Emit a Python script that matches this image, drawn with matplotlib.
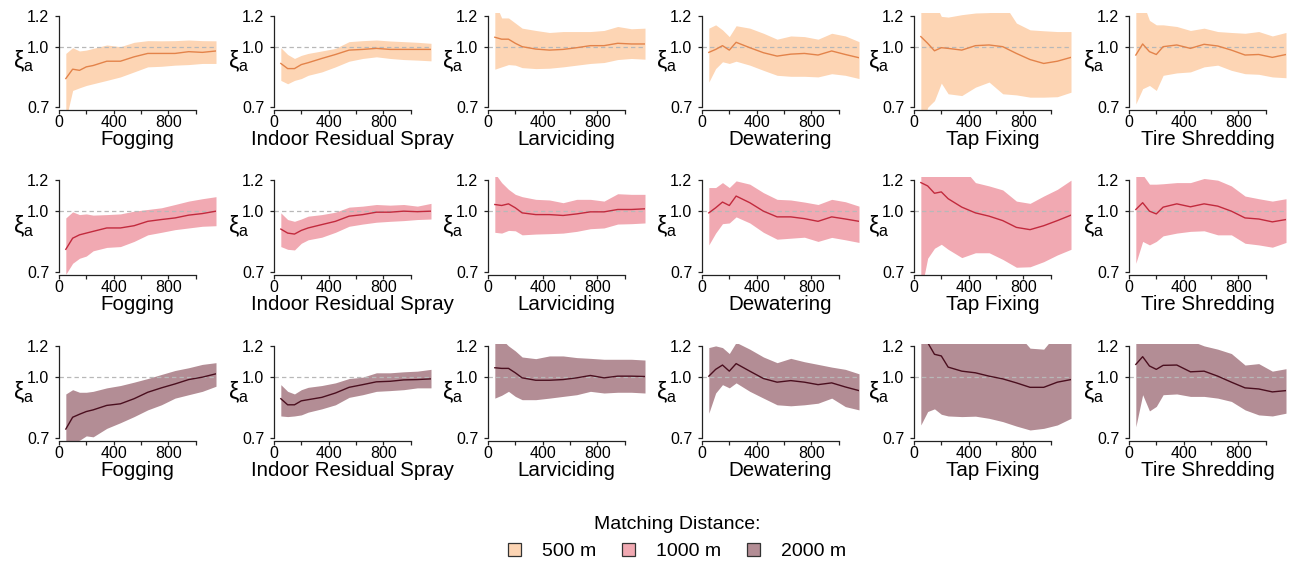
import matplotlib
matplotlib.use("Agg")
import matplotlib.pyplot as plt
from matplotlib.patches import Patch
from matplotlib.ticker import FixedLocator, FixedFormatter, NullLocator

plt.rcParams['font.family'] = ['Liberation Sans', 'DejaVu Sans']
plt.rcParams['mathtext.fontset'] = 'custom'
plt.rcParams['mathtext.rm'] = 'Liberation Sans'

# ---------------- data ----------------
categories = ["Fogging", "Indoor Residual Spray", "Larviciding", "Dewatering", "Tap Fixing", "Tire Shredding"]
distance_labels = ["500 m", "1000 m", "2000 m"]
dist_x = [50, 100, 150, 200, 250, 350, 450, 550, 650, 750, 850, 950, 1050, 1150]

# 500 m: rows = categories
mean_500 = [
    [0.829, 0.876, 0.870, 0.888, 0.895, 0.918, 0.918, 0.942, 0.961, 0.961, 0.961, 0.971, 0.967, 0.975],
    [0.906, 0.879, 0.879, 0.900, 0.910, 0.933, 0.955, 0.980, 0.984, 0.990, 0.984, 0.984, 0.984, 0.984],
    [1.057, 1.045, 1.045, 1.020, 1.000, 0.986, 0.980, 0.984, 0.994, 1.006, 1.006, 1.020, 1.016, 1.016],
    [0.967, 0.984, 1.006, 0.980, 1.026, 0.994, 0.965, 0.946, 0.957, 0.961, 0.952, 0.975, 0.955, 0.937],
    [1.061, 1.020, 0.976, 0.994, 0.990, 0.980, 1.006, 1.010, 1.000, 0.961, 0.927, 0.906, 0.918, 0.939],
    [0.952, 1.016, 0.971, 0.955, 1.000, 1.010, 0.990, 1.014, 1.004, 0.980, 0.952, 0.955, 0.939, 0.955],
]
low_500 = [
    [0.650, 0.773, 0.785, 0.796, 0.804, 0.820, 0.837, 0.862, 0.888, 0.891, 0.897, 0.900, 0.906, 0.906],
    [0.820, 0.804, 0.820, 0.829, 0.845, 0.862, 0.888, 0.918, 0.933, 0.942, 0.933, 0.927, 0.924, 0.920],
    [0.876, 0.888, 0.900, 0.897, 0.884, 0.879, 0.881, 0.888, 0.897, 0.906, 0.911, 0.927, 0.933, 0.929],
    [0.812, 0.879, 0.915, 0.906, 0.918, 0.897, 0.870, 0.845, 0.840, 0.840, 0.837, 0.853, 0.845, 0.829],
    [0.600, 0.700, 0.728, 0.807, 0.758, 0.750, 0.788, 0.812, 0.758, 0.753, 0.743, 0.743, 0.745, 0.765],
    [0.714, 0.781, 0.796, 0.773, 0.845, 0.857, 0.862, 0.888, 0.897, 0.870, 0.853, 0.850, 0.837, 0.833],
]
high_500 = [
    [0.961, 0.994, 0.975, 0.980, 0.990, 1.010, 1.000, 1.026, 1.036, 1.035, 1.036, 1.040, 1.036, 1.035],
    [0.994, 0.955, 0.933, 0.950, 0.961, 0.975, 0.990, 1.030, 1.036, 1.040, 1.034, 1.030, 1.026, 1.020],
    [1.300, 1.184, 1.184, 1.149, 1.115, 1.100, 1.087, 1.093, 1.093, 1.093, 1.100, 1.126, 1.111, 1.115],
    [1.115, 1.137, 1.104, 1.061, 1.131, 1.115, 1.082, 1.045, 1.065, 1.061, 1.045, 1.082, 1.065, 1.030],
    [1.300, 1.300, 1.300, 1.195, 1.190, 1.207, 1.219, 1.222, 1.300, 1.149, 1.104, 1.098, 1.093, 1.093],
    [1.300, 1.300, 1.167, 1.137, 1.137, 1.126, 1.100, 1.115, 1.093, 1.087, 1.082, 1.093, 1.065, 1.087],
]

# 1000 m
mean_1000 = [
    [0.799, 0.853, 0.870, 0.879, 0.888, 0.906, 0.906, 0.918, 0.942, 0.952, 0.961, 0.977, 0.986, 1.000],
    [0.900, 0.879, 0.874, 0.893, 0.906, 0.924, 0.942, 0.971, 0.980, 0.994, 0.994, 1.000, 0.997, 1.000],
    [1.040, 1.034, 1.044, 1.020, 0.990, 0.980, 0.980, 0.975, 0.984, 0.996, 0.996, 1.010, 1.010, 1.014],
    [0.990, 1.020, 1.055, 1.034, 1.093, 1.051, 1.000, 0.967, 0.967, 0.957, 0.942, 0.967, 0.955, 0.942],
    [1.183, 1.160, 1.111, 1.120, 1.076, 1.024, 0.990, 0.971, 0.946, 0.909, 0.897, 0.918, 0.946, 0.977],
    [1.010, 1.051, 1.000, 0.984, 1.024, 1.044, 1.026, 1.044, 1.030, 1.000, 0.961, 0.955, 0.939, 0.952],
]
low_1000 = [
    [0.690, 0.736, 0.758, 0.768, 0.792, 0.808, 0.812, 0.837, 0.870, 0.883, 0.897, 0.906, 0.915, 0.918],
    [0.812, 0.799, 0.796, 0.828, 0.845, 0.858, 0.883, 0.915, 0.927, 0.937, 0.942, 0.946, 0.952, 0.955],
    [0.883, 0.879, 0.893, 0.891, 0.870, 0.874, 0.876, 0.879, 0.888, 0.902, 0.906, 0.927, 0.929, 0.933],
    [0.820, 0.879, 0.929, 0.933, 0.967, 0.933, 0.883, 0.848, 0.853, 0.858, 0.837, 0.857, 0.845, 0.832],
    [0.620, 0.758, 0.804, 0.823, 0.799, 0.761, 0.783, 0.783, 0.753, 0.719, 0.721, 0.743, 0.773, 0.799],
    [0.736, 0.837, 0.820, 0.837, 0.865, 0.879, 0.888, 0.891, 0.870, 0.870, 0.828, 0.820, 0.809, 0.832],
]
high_1000 = [
    [0.961, 0.996, 0.980, 0.984, 0.977, 0.980, 0.984, 1.000, 1.010, 1.020, 1.040, 1.061, 1.076, 1.089],
    [0.990, 0.952, 0.942, 0.955, 0.971, 0.980, 0.994, 1.024, 1.030, 1.040, 1.036, 1.040, 1.030, 1.047],
    [1.250, 1.183, 1.137, 1.104, 1.089, 1.072, 1.068, 1.051, 1.072, 1.072, 1.061, 1.108, 1.104, 1.104],
    [1.149, 1.149, 1.183, 1.149, 1.195, 1.172, 1.115, 1.072, 1.068, 1.055, 1.040, 1.072, 1.057, 1.030],
    [1.300, 1.300, 1.300, 1.300, 1.300, 1.300, 1.183, 1.160, 1.133, 1.061, 1.047, 1.093, 1.137, 1.200],
    [1.300, 1.240, 1.172, 1.172, 1.175, 1.183, 1.183, 1.212, 1.200, 1.160, 1.093, 1.076, 1.061, 1.076],
]

# 2000 m
mean_2000 = [
    [0.737, 0.790, 0.804, 0.817, 0.825, 0.847, 0.855, 0.881, 0.915, 0.939, 0.961, 0.986, 1.000, 1.020],
    [0.881, 0.850, 0.850, 0.870, 0.876, 0.888, 0.911, 0.942, 0.957, 0.973, 0.976, 0.984, 0.986, 0.990],
    [1.057, 1.053, 1.053, 1.026, 0.996, 0.982, 0.982, 0.986, 0.996, 1.010, 0.996, 1.006, 1.006, 1.004],
    [1.006, 1.047, 1.074, 1.036, 1.083, 1.036, 0.992, 0.971, 0.980, 0.971, 0.957, 0.967, 0.944, 0.924],
    [1.320, 1.226, 1.144, 1.133, 1.061, 1.036, 1.026, 1.006, 0.990, 0.967, 0.942, 0.942, 0.971, 0.986],
    [1.078, 1.128, 1.068, 1.047, 1.072, 1.074, 1.032, 1.036, 1.006, 0.971, 0.939, 0.933, 0.917, 0.924],
]
low_2000 = [
    [0.620, 0.684, 0.690, 0.708, 0.704, 0.740, 0.765, 0.793, 0.825, 0.850, 0.884, 0.902, 0.920, 0.948],
    [0.796, 0.793, 0.796, 0.801, 0.814, 0.830, 0.850, 0.888, 0.902, 0.920, 0.924, 0.929, 0.939, 0.939],
    [0.884, 0.899, 0.920, 0.893, 0.876, 0.876, 0.884, 0.893, 0.902, 0.920, 0.911, 0.915, 0.915, 0.911],
    [0.809, 0.911, 0.957, 0.939, 0.967, 0.920, 0.884, 0.850, 0.845, 0.850, 0.858, 0.884, 0.841, 0.825],
    [0.755, 0.817, 0.830, 0.804, 0.796, 0.793, 0.795, 0.785, 0.770, 0.750, 0.733, 0.740, 0.755, 0.785],
    [0.747, 0.902, 0.820, 0.842, 0.902, 0.906, 0.893, 0.893, 0.884, 0.867, 0.825, 0.801, 0.796, 0.809],
]
high_2000 = [
    [0.906, 0.929, 0.915, 0.915, 0.920, 0.939, 0.952, 0.971, 0.992, 1.016, 1.040, 1.057, 1.078, 1.089],
    [0.957, 0.920, 0.906, 0.929, 0.942, 0.952, 0.967, 0.992, 1.000, 1.026, 1.026, 1.032, 1.036, 1.047],
    [1.250, 1.250, 1.202, 1.167, 1.126, 1.115, 1.133, 1.133, 1.122, 1.117, 1.111, 1.111, 1.111, 1.106],
    [1.190, 1.202, 1.190, 1.149, 1.227, 1.179, 1.126, 1.089, 1.117, 1.095, 1.078, 1.061, 1.047, 1.020],
    [1.300, 1.300, 1.300, 1.300, 1.300, 1.300, 1.300, 1.300, 1.300, 1.300, 1.186, 1.179, 1.300, 1.300],
    [1.300, 1.300, 1.300, 1.300, 1.300, 1.300, 1.240, 1.202, 1.179, 1.149, 1.074, 1.083, 1.036, 1.051],
]

y_ticks = [0.7, 1.0, 1.2]
y_tick_labels = ["0.7", "1.0", "1.2"]
x_ticks = [0, 200, 400, 600, 800, 1000]
x_tick_labels = ["0", "", "400", "", "800", ""]

# ---------------- styling ----------------
fill_colors = ["#FDD5B4", "#F1A9B2", "#B38D95"]
line_colors = ["#E3834A", "#C22A3D", "#4A0E1E"]

W, H = 1293, 565
fig = plt.figure(figsize=(W / 100, H / 100), dpi=100)

col_left = [59, 274, 488, 702, 914, 1129]
row_top = [13.0, 177.5, 343.5]
ax_w, ax_h = 157, 97.0

means = [mean_500, mean_1000, mean_2000]
lows = [low_500, low_1000, low_2000]
highs = [high_500, high_1000, high_2000]

for r in range(3):
    for c in range(6):
        ax = fig.add_axes([col_left[c] / W, 1 - (row_top[r] + ax_h) / H, ax_w / W, ax_h / H])
        ax.set_yscale('log')
        ax.fill_between(dist_x, lows[r][c], highs[r][c], color=fill_colors[r], lw=0, zorder=1)
        ax.axhline(1.0, color='#b8b8b8', lw=0.9, ls=(0, (3.5, 2.5)), zorder=2)
        ax.plot(dist_x, means[r][c], color=line_colors[r], lw=1.0, zorder=3)
        ax.set_xlim(0, 1150)
        ax.set_ylim(0.689, 1.219)
        for s in ['top', 'right']:
            ax.spines[s].set_visible(False)
        ax.spines['left'].set_bounds(0.7, 1.2)
        ax.spines['bottom'].set_bounds(0, 1000)
        for s in ['left', 'bottom']:
            ax.spines[s].set_linewidth(0.9)
            ax.spines[s].set_color('#222222')
        ax.yaxis.set_major_locator(FixedLocator(y_ticks))
        ax.yaxis.set_major_formatter(FixedFormatter(y_tick_labels))
        ax.yaxis.set_minor_locator(NullLocator())
        ax.xaxis.set_major_locator(FixedLocator(x_ticks))
        ax.xaxis.set_major_formatter(FixedFormatter(x_tick_labels))
        ax.tick_params(axis='both', length=3, width=0.9, color='#222222', labelsize=11.5)
        ax.tick_params(axis='y', pad=4)
        ax.tick_params(axis='x', pad=0.8)
        ax.set_xlabel(categories[c], fontsize=14.8)
        ax.xaxis.label.set_va('baseline')
        ax.xaxis.set_label_coords(0.5, -35.0 / ax_h)
        ax.set_ylabel(r'ξ$_\mathregular{a}$', fontsize=16.5, rotation=0, va='center', ha='center')
        ax.yaxis.set_label_coords(-0.228, 0.5)

handles = [Patch(facecolor=fill_colors[i], edgecolor='#333333', linewidth=0.9) for i in range(3)]
leg = fig.legend(handles, distance_labels, loc='center', bbox_to_anchor=(677 / W, 1 - 538 / H),
                 ncol=3, frameon=False, fontsize=14, title='Matching Distance:', title_fontsize=14,
                 handlelength=0.67, handleheight=0.67, handletextpad=1.1, columnspacing=1.3)

fig.savefig('out.png', dpi=100)
